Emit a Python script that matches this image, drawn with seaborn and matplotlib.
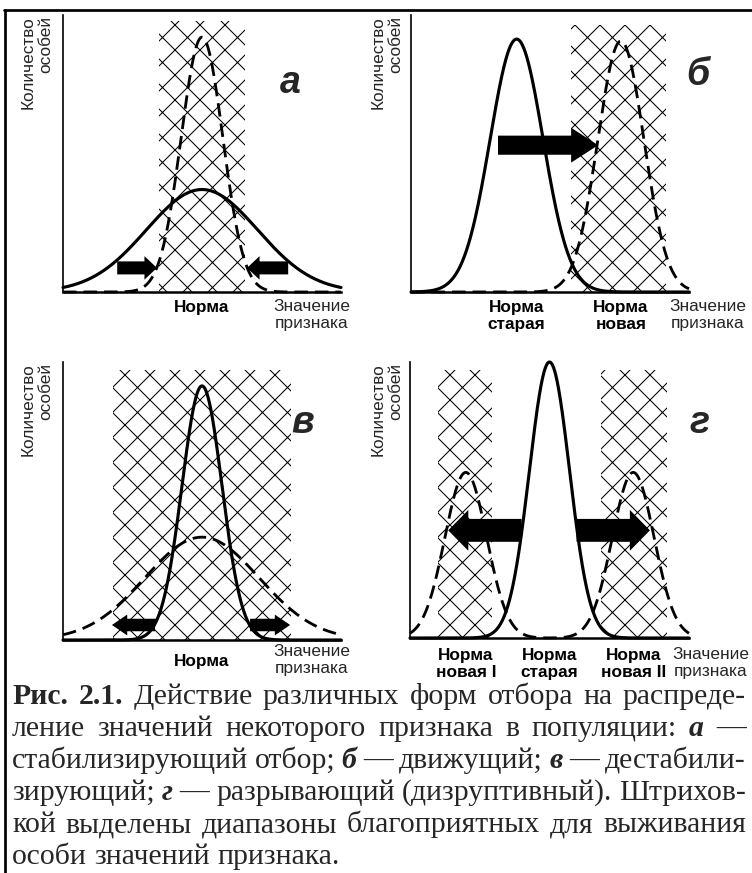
import numpy as np
import pandas as pd
import matplotlib
matplotlib.use("Agg")
import matplotlib.pyplot as plt
from matplotlib.lines import Line2D
import seaborn as sns

# ------------------------------------------------------------------ data
# Each bell curve: centre, spread (sd) and peak height
# (x axis: trait value 0..10, y axis: number of individuals 0..1)
A_SOLID_MEAN, A_SOLID_SD, A_SOLID_PEAK = [5.0], [2.0], [0.37]
A_DASH_MEAN, A_DASH_SD, A_DASH_PEAK = [5.0], [0.75], [0.92]
A_ZONES = [(3.45, 6.55)]
A_ZONE_TOP = 0.98
A_ARROW_FROM, A_ARROW_TO, A_ARROW_Y = [1.95, 8.1], [3.38, 6.62], 0.087
A_TICKS, A_TICKLABELS = [5.0], ["Норма"]

B_SOLID_MEAN, B_SOLID_SD, B_SOLID_PEAK = [3.8], [0.95], [0.913]
B_DASH_MEAN, B_DASH_SD, B_DASH_PEAK = [7.55], [0.83], [0.906]
B_ZONES = [(5.76, 9.17)]
B_ZONE_TOP = 0.965
B_ARROW_FROM, B_ARROW_TO, B_ARROW_Y = [3.13], [6.73], 0.53
B_TICKS, B_TICKLABELS = [3.8, 7.55], ["Норма\nстарая", "Норма\nновая"]

C_SOLID_MEAN, C_SOLID_SD, C_SOLID_PEAK = [5.0], [0.72], [0.914]
C_DASH_MEAN, C_DASH_SD, C_DASH_PEAK = [5.0], [2.05], [0.37]
C_ZONES = [(1.8, 8.2)]
C_ZONE_TOP = 0.97
C_ARROW_FROM, C_ARROW_TO, C_ARROW_Y = [3.31, 6.73], [1.76, 8.17], 0.054
C_TICKS, C_TICKLABELS = [5.0], ["Норма"]

D_SOLID_MEAN, D_SOLID_SD, D_SOLID_PEAK = [5.0], [0.72], [1.0]
D_DASH_MEAN, D_DASH_SD, D_DASH_PEAK = [2.0, 8.0], [0.75, 0.75], [0.60, 0.60]
D_ZONES = [(1.0, 2.95), (6.83, 9.2)]
D_ZONE_TOP = 0.97
D_ARROW_FROM, D_ARROW_TO, D_ARROW_Y = [4.0, 5.97], [1.37, 8.6], 0.39
D_TICKS, D_TICKLABELS = [2.0, 5.0, 8.0], ["Норма\nновая I", "Норма\nстарая", "Норма\nновая II"]

PANEL_LETTERS = ["а", "б", "в", "г"]
Y_LABEL = "Количество\nособей"
X_LABEL = "Значение\nпризнака"

CAPTION_LINES = [
    "**Рис. **2.1. Действие различных форм отбора на распреде-",
    "ление значений некоторого признака в популяции: __а —",
    "стабилизирующий отбор; __б — движущий; __в — дестабили-",
    "зирующий; __г — разрывающий (дизруптивный). Штрихов-",
    "кой выделены диапазоны благоприятных для выживания",
    "особи значений признака.",
]

# ------------------------------------------------------------------ style
sns.set_style("white")
plt.rcParams["font.family"] = ["Liberation Sans", "DejaVu Sans"]
plt.rcParams["hatch.linewidth"] = 1.0
plt.rcParams["hatch.color"] = "black"

W, H, DPI = 752, 873, 75
fig = plt.figure(figsize=(W / DPI, H / DPI), dpi=DPI, facecolor="white")


def fx(px):
    return px / W


def fy(py):
    return 1 - py / H


def bell(x, means, sds, peaks):
    y = np.zeros_like(x)
    for m, s, p in zip(means, sds, peaks):
        y = y + p * np.exp(-0.5 * ((x - m) / s) ** 2)
    return y


panels = [
    dict(box=(63, 341, 15, 292), solid=(A_SOLID_MEAN, A_SOLID_SD, A_SOLID_PEAK),
         dash=(A_DASH_MEAN, A_DASH_SD, A_DASH_PEAK), zones=A_ZONES, ztop=A_ZONE_TOP,
         arr=(A_ARROW_FROM, A_ARROW_TO, A_ARROW_Y), arrdim=(0.047, 0.085, 0.45),
         ticks=(A_TICKS, A_TICKLABELS), pad=2, letter=(290, 83), ylab=(37, 16),
         xlab=(312, 299)),
    dict(box=(411, 689, 15, 292), solid=(B_SOLID_MEAN, B_SOLID_SD, B_SOLID_PEAK),
         dash=(B_DASH_MEAN, B_DASH_SD, B_DASH_PEAK), zones=B_ZONES, ztop=B_ZONE_TOP,
         arr=(B_ARROW_FROM, B_ARROW_TO, B_ARROW_Y), arrdim=(0.069, 0.126, 0.97),
         ticks=(B_TICKS, B_TICKLABELS), pad=2, letter=(698, 75), ylab=(387, 16),
         xlab=(708, 299)),
    dict(box=(63, 341, 362, 640), solid=(C_SOLID_MEAN, C_SOLID_SD, C_SOLID_PEAK),
         dash=(C_DASH_MEAN, C_DASH_SD, C_DASH_PEAK), zones=C_ZONES, ztop=C_ZONE_TOP,
         arr=(C_ARROW_FROM, C_ARROW_TO, C_ARROW_Y), arrdim=(0.045, 0.075, 0.55),
         ticks=(C_TICKS, C_TICKLABELS), pad=7, letter=(303, 423), ylab=(37, 363),
         xlab=(312, 644)),
    dict(box=(410, 689, 362, 638), solid=(D_SOLID_MEAN, D_SOLID_SD, D_SOLID_PEAK),
         dash=(D_DASH_MEAN, D_DASH_SD, D_DASH_PEAK), zones=D_ZONES, ztop=D_ZONE_TOP,
         arr=(D_ARROW_FROM, D_ARROW_TO, D_ARROW_Y), arrdim=(0.083, 0.148, 0.72),
         ticks=(D_TICKS, D_TICKLABELS), pad=4, letter=(699, 423), ylab=(387, 363),
         xlab=(711, 647)),
]

xs = np.linspace(0, 10, 801)
SMALL = 16.5

for i, p in enumerate(panels):
    l, r, t, b = p["box"]
    ax = fig.add_axes([fx(l), fy(b), (r - l) / W, (b - t) / H])
    ax.set_xlim(0, 10)
    ax.set_ylim(0, 1)
    ax.margins(0)
    ax.patch.set_alpha(0)

    for z0, z1 in p["zones"]:
        ax.axvspan(z0, z1, ymin=0, ymax=p["ztop"], facecolor="white",
                   edgecolor="black", hatch="x", lw=0, zorder=1)

    df = pd.DataFrame({"x": xs,
                       "solid": bell(xs, *p["solid"]),
                       "dash": bell(xs, *p["dash"])})
    sns.lineplot(data=df, x="x", y="solid", ax=ax, color="black", lw=3.0,
                 zorder=4, clip_on=False, estimator=None)
    sns.lineplot(data=df, x="x", y="dash", ax=ax, color="black", lw=2.7,
                 zorder=4, clip_on=False, estimator=None)
    ax.lines[-1].set_dashes((4.8, 2.5))

    afrom, ato, ay = p["arr"]
    w, hw, hl = p["arrdim"]
    for x0, x1 in zip(afrom, ato):
        ax.arrow(x0, ay, x1 - x0, 0, width=w, head_width=hw, head_length=hl,
                 length_includes_head=True, color="black", lw=0, zorder=6,
                 clip_on=False)

    for s in ["top", "right"]:
        ax.spines[s].set_visible(False)
    ax.spines["left"].set_linewidth(1.6)
    ax.spines["bottom"].set_linewidth(2.4)
    ax.spines["left"].set_color("black")
    ax.spines["bottom"].set_color("black")
    ax.set_yticks([])
    tks, tlabs = p["ticks"]
    ax.set_xticks(tks)
    ax.set_xticklabels(tlabs)
    ax.tick_params(axis="x", length=6, width=1.5, direction="out",
                   pad=p["pad"], labelsize=SMALL, colors="black")
    for lbl in ax.get_xticklabels():
        lbl.set_fontweight("bold")
        lbl.set_linespacing(1.15)
    ax.set_xlabel("")
    ax.set_ylabel("")
    ax.grid(False)

    fig.text(fx(p["xlab"][0]), fy(p["xlab"][1]), X_LABEL, ha="center", va="top",
             fontsize=SMALL, linespacing=1.15)
    fig.text(fx(p["ylab"][0]), fy(p["ylab"][1]), Y_LABEL, ha="center", va="top",
             rotation=90, fontsize=SMALL, multialignment="right", linespacing=1.25)
    fig.text(fx(p["letter"][0]), fy(p["letter"][1]), PANEL_LETTERS[i],
             ha="center", va="center", fontsize=36, fontweight="bold",
             fontstyle="italic")

# frame lines (top and left)
fig.add_artist(Line2D([fx(5), fx(5)], [0, fy(10)], color="black", lw=2.6,
                      transform=fig.transFigure))
fig.add_artist(Line2D([fx(4), 1], [fy(10), fy(10)], color="black", lw=2.6,
                      transform=fig.transFigure))

# ------------------------------------------------------------------ caption
renderer = fig.canvas.get_renderer()
CAP_LEFT, CAP_RIGHT = 12, 746
CAP_STEP = 32.0
CAP_BASE_LAST = 864
CAP_BASE0 = CAP_BASE_LAST - CAP_STEP * (len(CAPTION_LINES) - 1)
cap_size = 30.5
CAP_FAMILY = ["Liberation Serif", "DejaVu Serif"]


def parse(line):
    out = []
    for wd in line.split(" "):
        if wd.startswith("**"):
            out.append((wd[2:], "bold", "normal"))
        elif wd.startswith("__"):
            out.append((wd[2:], "bold", "italic"))
        else:
            out.append((wd, "normal", "normal"))
    return out


def measure(words, size):
    widths = []
    for txt, wt, st in words:
        tt = fig.text(0, 0, txt, fontsize=size, fontweight=wt, fontstyle=st,
                      family=CAP_FAMILY)
        widths.append(tt.get_window_extent(renderer=renderer).width)
        tt.remove()
    return widths


parsed = [parse(ln) for ln in CAPTION_LINES]
avail = CAP_RIGHT - CAP_LEFT
for _ in range(10):
    worst = 0
    for words in parsed[:-1]:
        ws = measure(words, cap_size)
        worst = max(worst, sum(ws) + 0.22 * cap_size * (len(ws) - 1))
    if worst <= avail:
        break
    cap_size *= avail / worst * 0.997

space_w = measure([("a b", "normal", "normal")], cap_size)[0] - \
    measure([("ab", "normal", "normal")], cap_size)[0]

for k, words in enumerate(parsed):
    ws = measure(words, cap_size)
    if k < len(parsed) - 1 and len(words) > 1:
        gap = (avail - sum(ws)) / (len(words) - 1)
    else:
        gap = space_w
    xpos = CAP_LEFT
    base = CAP_BASE0 + k * CAP_STEP
    for (txt, wt, st), wd in zip(words, ws):
        fig.text(fx(xpos), fy(base), txt, fontsize=cap_size, fontweight=wt,
                 fontstyle=st, ha="left", va="baseline", family=CAP_FAMILY)
        xpos += wd + gap

fig.savefig("out.png", dpi=DPI, facecolor="white")
